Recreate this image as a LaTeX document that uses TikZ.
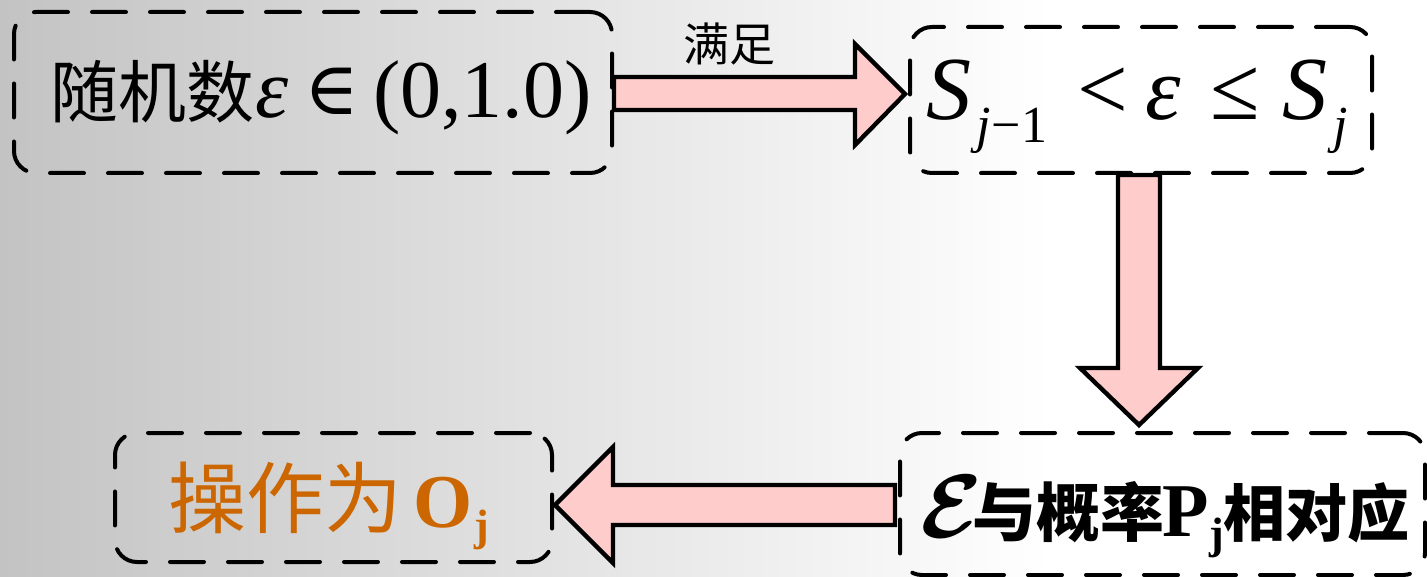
\documentclass[tikz,border=0pt]{standalone}
\usepackage{amsmath}
\usepackage{graphicx}
\usepackage{fontspec}
\setmainfont{Liberation Serif}
\newfontfamily\cjk{Noto Sans CJK SC}
\newfontfamily\dvs{DejaVu Serif}
\definecolor{bgL}{RGB}{195,195,195}
\definecolor{pinkA}{RGB}{255,204,204}
\definecolor{orangeT}{RGB}{204,102,0}
\newcommand\setfs[1]{\fontsize{#1}{#1}\selectfont}
\begin{document}
\begin{tikzpicture}[x=0.5pt,y=-0.5pt,
  box/.style={draw=black, line width=2pt, dash pattern=on 17pt off 12pt, line cap=round,
    rounded corners=11pt, inner sep=0pt, outer sep=0pt, fill=none},
  blk/.style={draw=black, line width=2.2pt, fill=pinkA, line join=miter},
  txt/.style={inner sep=0pt, outer sep=0pt, anchor=base west}]
\useasboundingbox (0,0) rectangle (1427,577);
% background
\fill[left color=bgL, right color=white] (0,0) rectangle (1050,577);
\fill[white] (1050,0) rectangle (1427,577);

% block arrows
\draw[blk] (614,77) -- (855,77) -- (855,44) -- (905,94) -- (855,145) -- (855,110) -- (614,110) -- cycle;
\draw[blk] (1118,175) -- (1160,175) -- (1160,368) -- (1198,368) -- (1139,425) -- (1080,368) -- (1118,368) -- cycle;
\draw[blk] (895,485) -- (613,485) -- (613,447) -- (555,505) -- (613,563) -- (613,525) -- (895,525) -- cycle;

% boxes
\node[box, minimum width=299pt, minimum height=80.5pt] (b1) at (313,92.5) {};
\node[box, minimum width=231pt, minimum height=73pt] (b2) at (1141,100) {};
\node[box, minimum width=262.5pt, minimum height=71pt] (b3) at (1162.5,504) {};
\node[box, minimum width=218.5pt, minimum height=64.5pt] (b4) at (333.5,497.5) {};

% label
\node[txt] (lab) at (683,62) {\cjk\setfs{23}满足};

% box 1 text
\node[txt] (t1a) at (50,118) {\cjk\setfs{34}随机数};
\node[txt] (t1b) at (255,118) {\setfs{42}\textit{ε}};
\node[txt] (t1c) at (304,115) {\dvs\setfs{37}∈};
\node[txt] (t1d) at (373,118) {\setfs{41}(0,1.0)};

% box 2 text
\node[txt] (t2a) at (926,120) {\setfs{45}\textit{S}};
\node[txt] (t2b) at (976,143) {\setfs{26}\textit{j}\hspace{0.5pt}−\hspace{0.5pt}1};
\node[txt] (t2c) at (1077,120) {\setfs{45}<};
\node[txt] (t2d) at (1145,120) {\setfs{45}\textit{ε}};
\node[txt] (t2e) at (1210,120) {\setfs{45}≤};
\node[txt] (t2f) at (1282,120) {\setfs{45}\textit{S}};
\node[txt] (t2g) at (1333,143) {\setfs{26}\textit{j}};

% box 3 text
\node[txt] (t3a) at (920,537) {\scalebox{4.5}{$\boldsymbol{\mathcal{E}}$}};
\node[txt] (t3b) at (972,536) {\cjk\bfseries\setfs{32}与概率};
\node[txt] (t3c) at (1162,536) {\bfseries\setfs{38}P};
\node[txt] (t3d) at (1209,548) {\bfseries\setfs{22}j};
\node[txt] (t3e) at (1223,536) {\cjk\bfseries\setfs{31}相对应};

% box 4 text
\node[txt, text=orangeT] (t4a) at (168,527) {\cjk\setfs{39}操作为};
\node[txt, text=orangeT] (t4b) at (413,527) {\bfseries\setfs{38}O};
\node[txt, text=orangeT] (t4c) at (474,540) {\bfseries\setfs{22}j};
\end{tikzpicture}
\end{document}
